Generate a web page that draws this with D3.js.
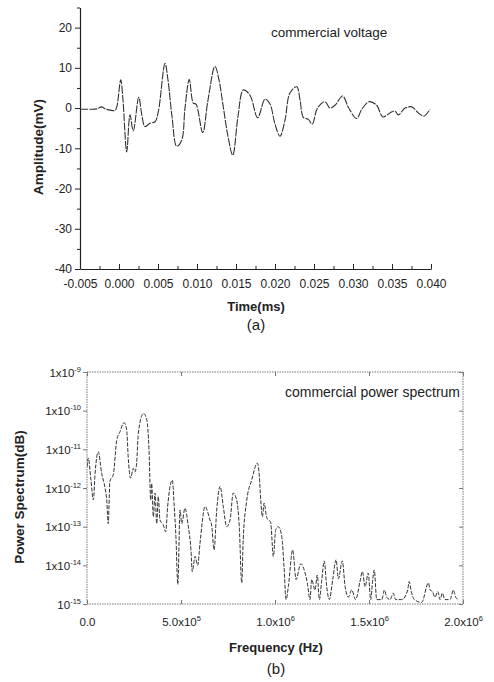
<!DOCTYPE html>
<html><head><meta charset="utf-8">
<script src="https://cdn.jsdelivr.net/npm/d3@7"></script>
<style>body{margin:0;background:#fff}svg{display:block;font-family:"Liberation Sans",Arial,sans-serif}</style>
</head><body><svg id="c" width="494" height="682"></svg>
<script>
// ---------- (a) commercial voltage ----------
const timeMs = [-0.005,-0.00372,-0.00282,-0.00222,-0.00179,-0.00115,-0.00051,-0.00026,0.00022,0.00051,0.00099,0.00141,0.00183,0.00253,0.00295,0.00333,0.00397,0.00462,0.00504,0.0059,0.00628,0.00679,0.0074,0.00804,0.00846,0.00901,0.00953,0.00987,0.01073,0.01141,0.01231,0.01282,0.01337,0.01397,0.01458,0.01526,0.01594,0.01679,0.01778,0.01872,0.01936,0.02,0.02064,0.02128,0.02192,0.02278,0.02321,0.02363,0.02427,0.02478,0.02542,0.02641,0.02705,0.02769,0.02868,0.0294,0.03047,0.03112,0.03209,0.03304,0.03381,0.03474,0.03538,0.03581,0.03667,0.03753,0.03837,0.0391,0.03987];
const amplitudeMv = [-0.3,-0.3,-0.2,0.3,-0.2,-0.5,-0.6,0.5,7,2,-10.9,-1.7,-5.7,2.7,-2,-4.6,-3.8,-3.4,-0.9,11.1,7,-2,-9.5,-8,0,7.1,1.2,1,-6.1,2,10.4,7,0.3,-7,-11.7,-2,4.5,3.2,-2.4,2.2,1,-4,-7,-3,3.8,5.3,2,-2.3,-2.8,-4,-0.1,1.6,0,0.7,3,0.2,-2.6,-0.3,1.6,0.7,-2.2,-1.2,-0.7,-1.7,0,0.3,-1.2,-2,-0.3];
const timeTicks = [-0.005,0,0.005,0.010,0.015,0.020,0.025,0.030,0.035,0.040];
const timeTickLabels = ["-0.005","0.000","0.005","0.010","0.015","0.020","0.025","0.030","0.035","0.040"];
const ampTicks = [-40,-30,-20,-10,0,10,20];
const ampTickLabels = ["-40","-30","-20","-10","0","10","20"];

// ---------- (b) commercial power spectrum ----------
const freqHz = [0,0.07e5,0.21e5,0.34e5,0.43e5,0.60e5,0.78e5,0.96e5,1.05e5,1.13e5,1.22e5,1.40e5,1.58e5,1.76e5,1.97e5,2.11e5,2.20e5,2.32e5,2.46e5,2.55e5,2.64e5,2.73e5,3.00e5,3.18e5,3.30e5,3.39e5,3.44e5,3.53e5,3.62e5,3.71e5,3.79e5,3.88e5,4.06e5,4.19e5,4.29e5,4.54e5,4.64e5,4.73e5,4.83e5,4.95e5,5.04e5,5.21e5,5.39e5,5.53e5,5.60e5,5.75e5,5.89e5,6.01e5,6.28e5,6.54e5,6.63e5,6.76e5,6.90e5,7.08e5,7.25e5,7.43e5,7.61e5,7.78e5,7.96e5,8.10e5,8.23e5,8.31e5,8.50e5,8.76e5,9.06e5,9.17e5,9.24e5,9.33e5,9.42e5,9.56e5,9.77e5,9.91e5,10.04e5,10.18e5,10.36e5,10.48e5,10.59e5,10.71e5,10.94e5,11.12e5,11.37e5,11.60e5,11.72e5,11.86e5,11.95e5,12.13e5,12.25e5,12.36e5,12.49e5,12.62e5,12.75e5,12.89e5,13.07e5,13.25e5,13.37e5,13.58e5,13.73e5,13.90e5,14.08e5,14.29e5,14.52e5,14.65e5,14.79e5,14.96e5,15.09e5,15.20e5,15.28e5,15.41e5,15.68e5,15.82e5,15.94e5,16.12e5,16.29e5,16.42e5,16.74e5,17.06e5,17.13e5,17.27e5,17.41e5,17.80e5,18.16e5,18.25e5,18.37e5,18.51e5,18.66e5,18.78e5,18.90e5,19.04e5,19.31e5,19.49e5,19.61e5,19.75e5];
const powerSpec = [3.5e-12,5.9e-12,1.6e-12,4.9e-13,2.4e-12,8.7e-12,2.4e-12,1.0e-12,4.9e-13,1.2e-13,1.5e-12,2.2e-12,1.7e-11,2.9e-11,4.9e-11,3.2e-11,5.4e-12,1.8e-12,3.2e-12,2.6e-12,4.4e-12,2.6e-11,8.5e-11,5.8e-11,9.5e-12,4.9e-13,1.3e-12,1.8e-13,7.4e-13,1.2e-13,6.0e-13,1.5e-13,1.1e-13,7.4e-14,3.3e-13,1.6e-12,3.3e-13,5.5e-14,3.2e-15,2.7e-13,1.2e-13,3.0e-13,1.0e-13,2.5e-14,6.9e-15,1.7e-14,1.0e-14,3.7e-14,3.3e-13,1.5e-13,1.1e-13,2.5e-14,2.7e-13,1.1e-12,3.3e-13,1.0e-13,1.5e-13,7.4e-13,4.9e-13,1.0e-13,3.5e-15,4.6e-14,4.9e-13,1.6e-12,4.4e-12,1.9e-12,4.9e-13,1.8e-13,4.1e-13,1.7e-13,1.3e-13,1.7e-14,8.3e-14,1.0e-13,5.5e-14,9.3e-15,1.3e-15,2.8e-15,2.5e-14,4.3e-15,1.1e-14,6.3e-15,3.5e-15,1.3e-15,4.3e-15,2.3e-15,5.6e-15,1.3e-15,4.3e-15,1.3e-14,2.8e-15,1.3e-15,4.3e-15,1.4e-14,4.5e-15,1.3e-14,2.8e-15,1.5e-15,2.3e-15,1.3e-15,3.8e-15,6.9e-15,2.8e-15,6.3e-15,1.3e-15,4.3e-15,7.6e-15,1.3e-15,1.3e-15,2.3e-15,1.5e-15,1.3e-15,1.9e-15,1.3e-15,1.3e-15,2.3e-15,3.8e-15,1.9e-15,1.3e-15,1.1e-15,3.5e-15,2.3e-15,2.1e-15,1.5e-15,2.1e-15,1.3e-15,1.9e-15,1.3e-15,1.3e-15,2.3e-15,1.5e-15,1.3e-15];
const freqTicks = [0,5e5,1e6,1.5e6,2e6];
const freqTickBase = ["0.0","5.0x10","1.0x10","1.5x10","2.0x10"];
const freqTickExp = ["","5","6","6","6"];
const powTicks = [1e-9,1e-10,1e-11,1e-12,1e-13,1e-14,1e-15];
const powTickBase = ["1x10","1x10","1x10","1x10","1x10","1x10","10"];
const powTickExp = ["-9","-10","-11","-12","-13","-14","-15"];

const svg = d3.select("#c");
svg.append("rect").attr("width",494).attr("height",682).attr("fill","#fff");
const ink = "#222";

// ===== chart (a) =====
const xA = d3.scaleLinear().domain([-0.005,0.040]).range([80,431]);
const yA = d3.scaleLinear().domain([-40,25]).range([269,7.5]);
const gA = svg.append("g");

gA.append("g").attr("transform","translate(80,0)")
  .call(d3.axisLeft(yA).tickValues(ampTicks).tickSize(5).tickSizeOuter(0).tickPadding(3)
    .tickFormat((d,i)=>ampTickLabels[i]));
gA.append("g").attr("transform","translate(80,0)")
  .call(d3.axisLeft(yA).tickValues(d3.range(-35,26,10)).tickSize(3).tickSizeOuter(0).tickFormat(""))
  .select(".domain").remove();

gA.append("g").attr("transform","translate(0,269)")
  .call(d3.axisBottom(xA).tickValues(timeTicks).tickSizeInner(-5).tickSizeOuter(0).tickPadding(10)
    .tickFormat((d,i)=>timeTickLabels[i]));
gA.append("g").attr("transform","translate(0,269)")
  .call(d3.axisBottom(xA).tickValues(d3.range(-0.0025,0.040,0.005)).tickSizeInner(-3).tickSizeOuter(0).tickFormat(""))
  .select(".domain").remove();

gA.selectAll(".domain").attr("stroke",ink).attr("stroke-width",1.2);
gA.selectAll(".tick line").attr("stroke",ink);
gA.selectAll(".tick text").attr("font-size",12).attr("fill",ink).attr("font-family","Liberation Sans, Arial, sans-serif");

const lineA = d3.line().x((d,i)=>xA(timeMs[i])).y(d=>yA(d)).curve(d3.curveCatmullRom.alpha(0.5));
gA.append("path").datum(amplitudeMv).attr("d",lineA)
  .attr("fill","none").attr("stroke","#333").attr("stroke-width",1.1)
  .attr("stroke-dasharray","8,1.2");

gA.append("text").attr("x",271).attr("y",37).attr("font-size",13.5).attr("fill",ink).text("commercial voltage");
gA.append("text").attr("transform","translate(43,147) rotate(-90)").attr("text-anchor","middle")
  .attr("font-size",13.5).attr("font-weight","bold").attr("fill",ink).text("Amplitude(mV)");
gA.append("text").attr("x",256).attr("y",311).attr("text-anchor","middle")
  .attr("font-size",13).attr("font-weight","bold").attr("fill",ink).text("Time(ms)");
gA.append("text").attr("x",256).attr("y",330).attr("text-anchor","middle")
  .attr("font-size",15).attr("fill",ink).text("(a)");

// ===== chart (b) =====
const xB = d3.scaleLinear().domain([0,2e6]).range([87,463]);
const yB = d3.scaleLog().domain([1e-15,1e-9]).range([604,372]);
const gB = svg.append("g");
const frameCol = "#777";

gB.append("rect").attr("x",87).attr("y",372).attr("width",376).attr("height",232)
  .attr("fill","none").attr("stroke",frameCol).attr("stroke-width",1).attr("stroke-dasharray","1.5,1");

const leftB = gB.append("g").attr("transform","translate(87,0)")
  .call(d3.axisLeft(yB).tickValues(powTicks).tickSize(4).tickSizeOuter(0).tickFormat(""));
const rightB = gB.append("g").attr("transform","translate(463,0)")
  .call(d3.axisLeft(yB).tickValues(powTicks).tickSize(4).tickSizeOuter(0).tickFormat(""));
const botB = gB.append("g").attr("transform","translate(0,604)")
  .call(d3.axisBottom(xB).tickValues(freqTicks).tickSizeInner(-4).tickSizeOuter(0).tickFormat(""));
gB.append("g").attr("transform","translate(0,372)")
  .call(d3.axisTop(xB).tickValues(freqTicks).tickSizeInner(-4).tickSizeOuter(0).tickFormat(""));
rightB.selectAll(".tick line").attr("x2",-4);
gB.selectAll(".domain").remove();
gB.selectAll(".tick line").attr("stroke",frameCol);

leftB.selectAll(".tick").each(function(d,i){
  const t = d3.select(this).append("text").attr("x",-6).attr("dy","0.35em")
    .attr("text-anchor","end").attr("font-size",11.5).attr("fill",ink)
    .attr("font-family","Liberation Sans, Arial, sans-serif");
  t.append("tspan").text(powTickBase[i]);
  t.append("tspan").attr("dy",-5).attr("font-size",7.5).text(powTickExp[i]);
});
botB.selectAll(".tick").each(function(d,i){
  const t = d3.select(this).append("text").attr("y",22)
    .attr("text-anchor","middle").attr("font-size",11.5).attr("fill",ink)
    .attr("font-family","Liberation Sans, Arial, sans-serif");
  t.append("tspan").text(freqTickBase[i]);
  if (freqTickExp[i]) t.append("tspan").attr("dy",-5).attr("font-size",7.5).text(freqTickExp[i]);
});

gB.append("clipPath").attr("id","clipB").append("rect").attr("x",87).attr("y",372).attr("width",376).attr("height",232);
const lineB = d3.line().x((d,i)=>xB(freqHz[i])).y(d=>yB(d)).curve(d3.curveMonotoneX);
gB.append("path").datum(powerSpec).attr("d",lineB).attr("clip-path","url(#clipB)")
  .attr("fill","none").attr("stroke","#333").attr("stroke-width",1)
  .attr("stroke-dasharray","4,1.5");

gB.append("text").attr("x",460).attr("y",397).attr("text-anchor","end")
  .attr("font-size",14).attr("fill",ink).text("commercial power spectrum");
gB.append("text").attr("transform","translate(24,497) rotate(-90)").attr("text-anchor","middle")
  .attr("font-size",13.5).attr("font-weight","bold").attr("fill",ink).text("Power Spectrum(dB)");
gB.append("text").attr("x",276).attr("y",652).attr("text-anchor","middle")
  .attr("font-size",13).attr("font-weight","bold").attr("fill",ink).text("Frequency (Hz)");
gB.append("text").attr("x",276).attr("y",674).attr("text-anchor","middle")
  .attr("font-size",15).attr("fill",ink).text("(b)");
</script></body></html>
